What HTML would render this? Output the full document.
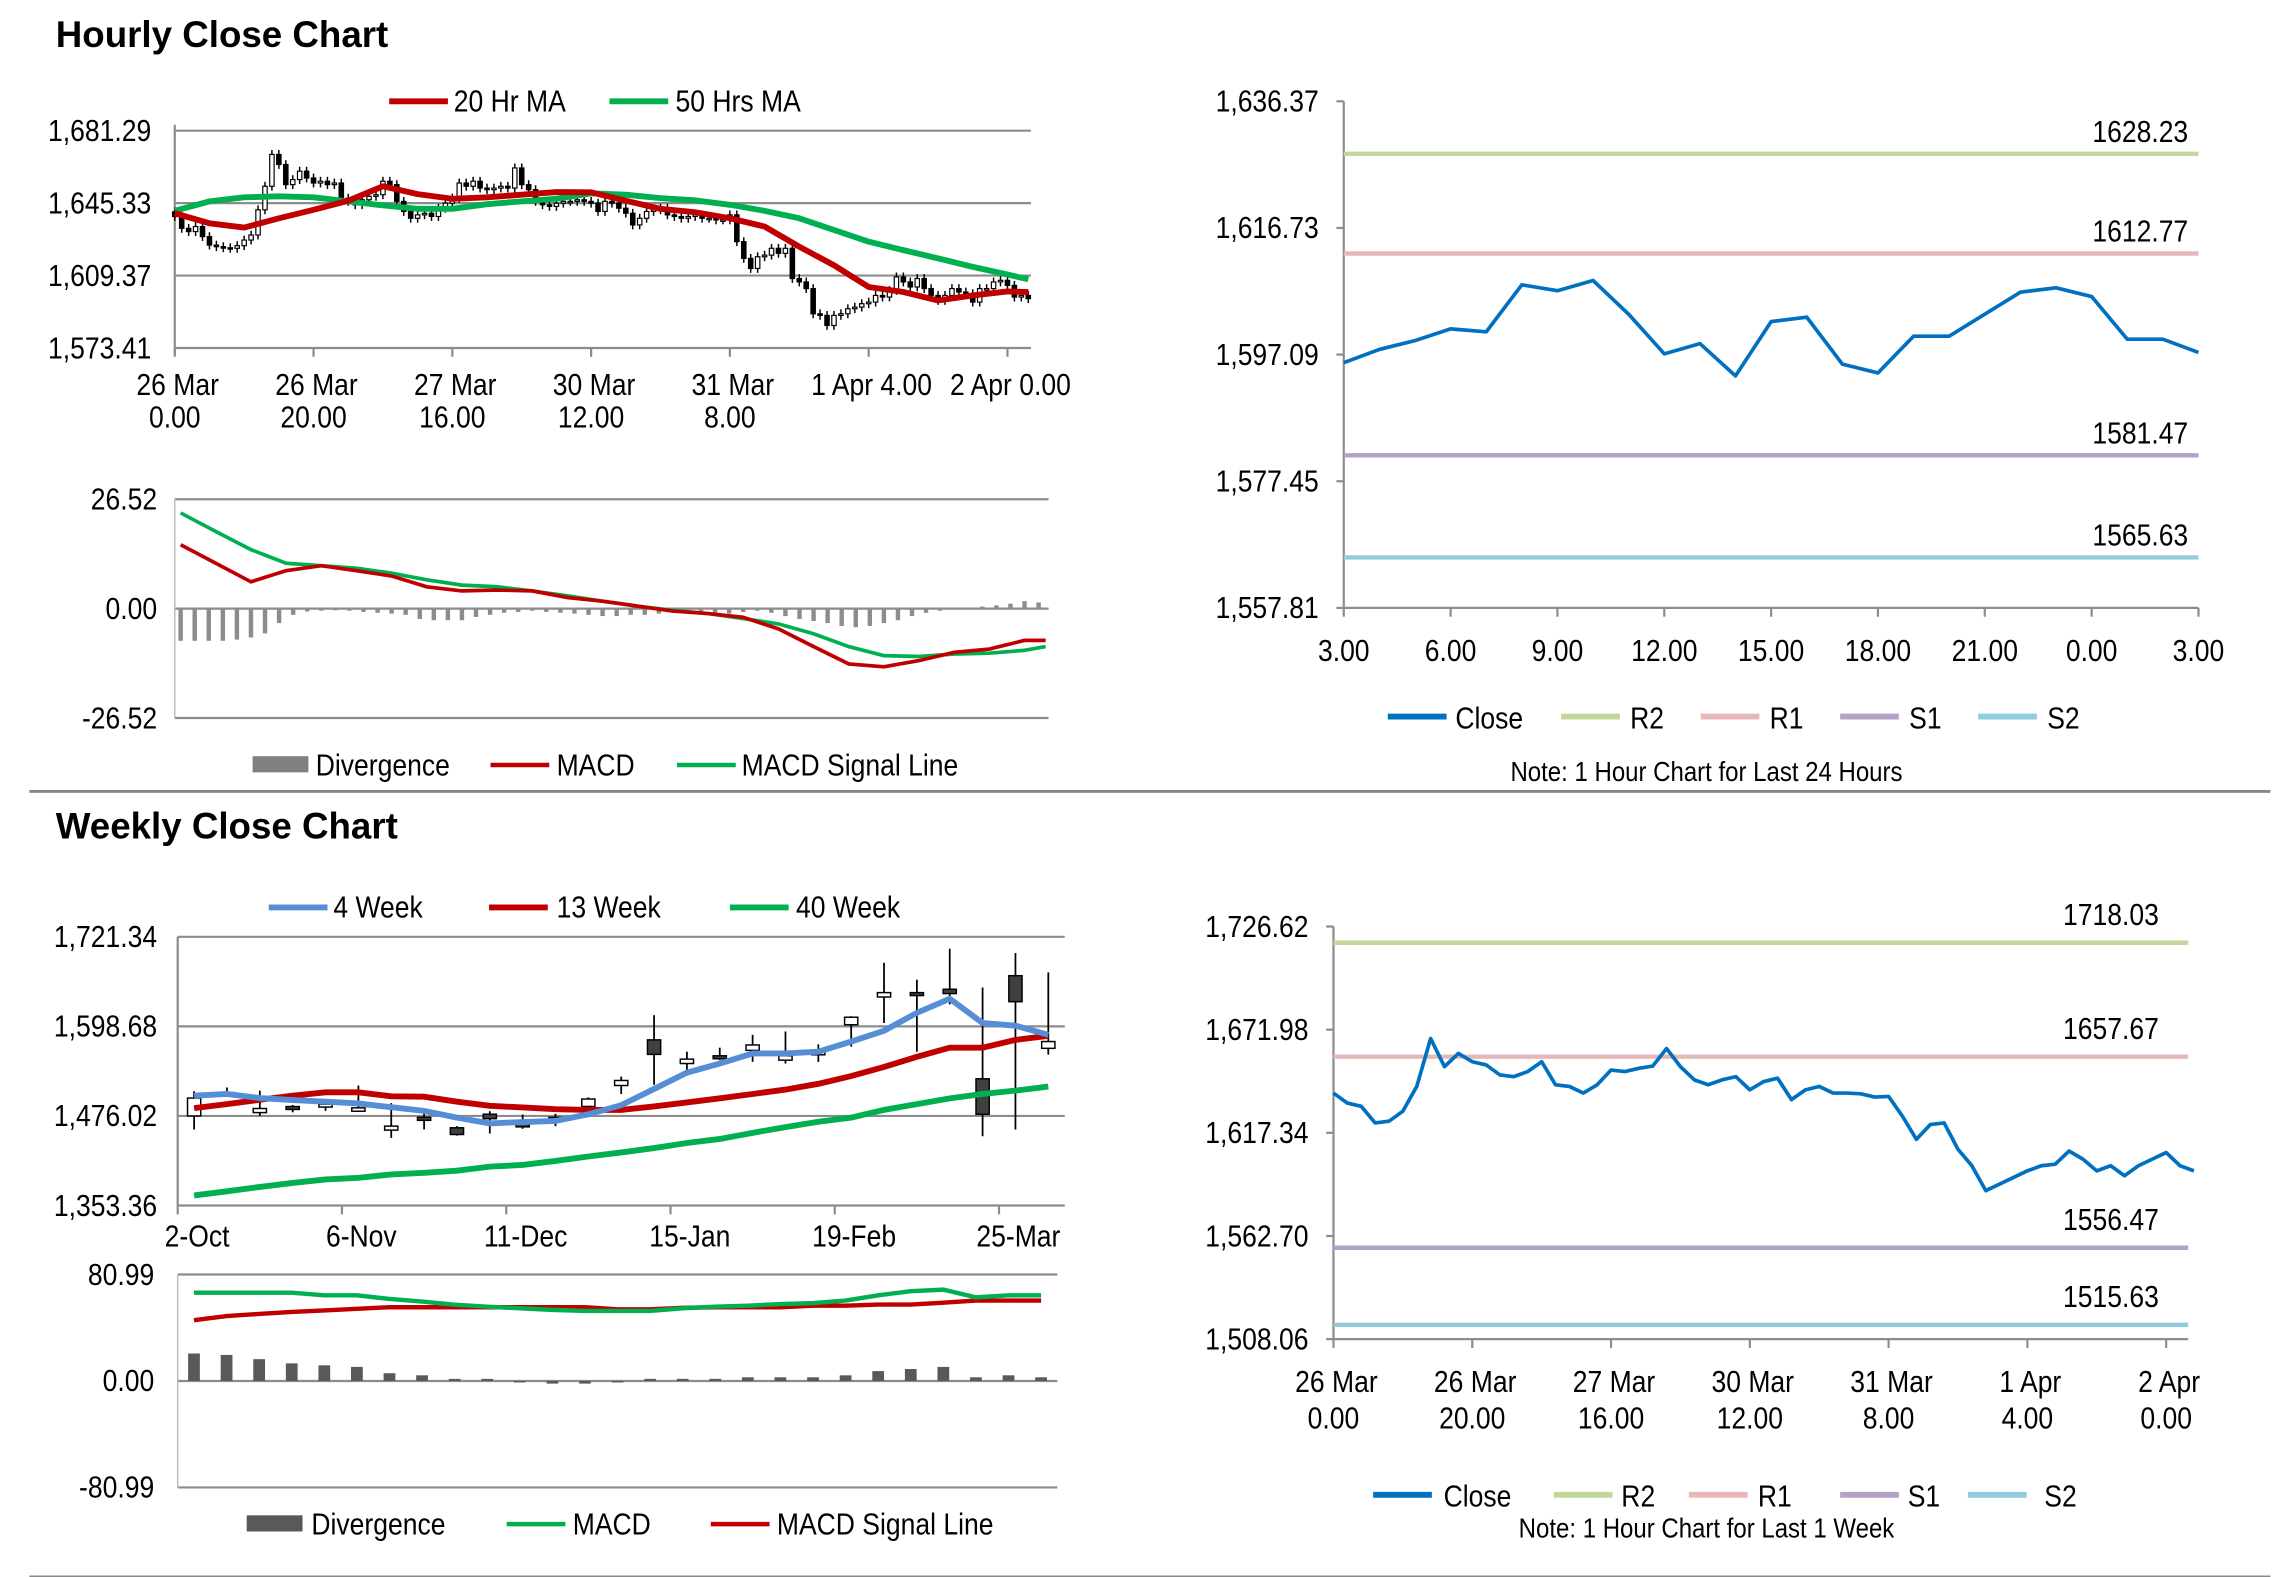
<!DOCTYPE html>
<html><head><meta charset="utf-8">
<style>
html,body{margin:0;padding:0;background:#fff;}
svg{display:block;}
text{font-family:"Liberation Sans Narrow","Liberation Sans",Arial,sans-serif;fill:#000;}
.t{font-size:21px;}
.title{font-family:"Liberation Sans",Arial,sans-serif;font-weight:bold;font-size:25px;}
</style></head>
<body>
<svg id="chart" width="2291" height="1577" viewBox="0 0 1560 1074" preserveAspectRatio="none" xmlns="http://www.w3.org/2000/svg">
<rect x="0" y="0" width="1560" height="1074" fill="#fff"/>
<text class="title" x="38" y="32">Hourly Close Chart</text>
<text class="title" x="38" y="571">Weekly Close Chart</text>
<line x1="20" y1="539" x2="1546" y2="539" stroke="#888" stroke-width="2"/>
<line x1="20" y1="1074" x2="1546" y2="1074" stroke="#888" stroke-width="2"/>

<g>
<line x1="265" y1="69" x2="305" y2="69" stroke="#c00000" stroke-width="4"/>
<text class="t" x="309" y="76">20 Hr MA</text>
<line x1="415" y1="69" x2="455" y2="69" stroke="#00b050" stroke-width="4"/>
<text class="t" x="460" y="76">50 Hrs MA</text>
</g>
<g>
<rect x="172" y="515" width="38" height="11" fill="#808080"/>
<text class="t" x="215" y="528">Divergence</text>
<line x1="334" y1="521" x2="374" y2="521" stroke="#c00000" stroke-width="3"/>
<text class="t" x="379" y="528">MACD</text>
<line x1="461" y1="521" x2="501" y2="521" stroke="#00b050" stroke-width="3"/>
<text class="t" x="505" y="528">MACD Signal Line</text>
</g>
<g>
<line x1="945" y1="488" x2="985" y2="488" stroke="#0070c0" stroke-width="4"/>
<text class="t" x="991" y="496">Close</text>
<line x1="1063" y1="488" x2="1103" y2="488" stroke="#c3d69b" stroke-width="4"/>
<text class="t" x="1110" y="496">R2</text>
<line x1="1158" y1="488" x2="1198" y2="488" stroke="#e6b9b8" stroke-width="4"/>
<text class="t" x="1205" y="496">R1</text>
<line x1="1253" y1="488" x2="1293" y2="488" stroke="#b3a2c7" stroke-width="4"/>
<text class="t" x="1300" y="496">S1</text>
<line x1="1347" y1="488" x2="1387" y2="488" stroke="#93cddd" stroke-width="4"/>
<text class="t" x="1394" y="496">S2</text>
<text x="1162" y="532" text-anchor="middle" style="font-size:19px">Note: 1 Hour Chart for Last 24 Hours</text>
</g>
<g>
<line x1="183" y1="618" x2="223" y2="618" stroke="#558ed5" stroke-width="4"/>
<text class="t" x="227" y="625">4 Week</text>
<line x1="333" y1="618" x2="373" y2="618" stroke="#c00000" stroke-width="4"/>
<text class="t" x="379" y="625">13 Week</text>
<line x1="497" y1="618" x2="537" y2="618" stroke="#00b050" stroke-width="4"/>
<text class="t" x="542" y="625">40 Week</text>
</g>
<g>
<rect x="168" y="1032" width="38" height="11" fill="#595959"/>
<text class="t" x="212" y="1045">Divergence</text>
<line x1="345" y1="1038" x2="385" y2="1038" stroke="#00b050" stroke-width="3"/>
<text class="t" x="390" y="1045">MACD</text>
<line x1="484" y1="1038" x2="524" y2="1038" stroke="#c00000" stroke-width="3"/>
<text class="t" x="529" y="1045">MACD Signal Line</text>
</g>
<g>
<line x1="935" y1="1018" x2="975" y2="1018" stroke="#0070c0" stroke-width="4"/>
<text class="t" x="983" y="1026">Close</text>
<line x1="1058" y1="1018" x2="1098" y2="1018" stroke="#c3d69b" stroke-width="4"/>
<text class="t" x="1104" y="1026">R2</text>
<line x1="1150" y1="1018" x2="1190" y2="1018" stroke="#e6b9b8" stroke-width="4"/>
<text class="t" x="1197" y="1026">R1</text>
<line x1="1253" y1="1018" x2="1293" y2="1018" stroke="#b3a2c7" stroke-width="4"/>
<text class="t" x="1299" y="1026">S1</text>
<line x1="1340" y1="1018" x2="1380" y2="1018" stroke="#93cddd" stroke-width="4"/>
<text class="t" x="1392" y="1026">S2</text>
<text x="1162" y="1047" text-anchor="middle" style="font-size:19px">Note: 1 Hour Chart for Last 1 Week</text>
</g>
</svg>
<script>
// ---------- DATA ----------
const hourlyCloses = [1638.7,1632.8,1631.2,1633.7,1628.7,1624.5,1623.7,1623.2,1622.9,1624.2,1627.0,1629.5,1642.0,1653.7,1669.5,1664.5,1654.5,1657.0,1661.2,1657.8,1655.3,1656.2,1654.5,1655.3,1647.8,1646.2,1644.5,1647.0,1648.7,1649.5,1656.2,1654.5,1646.2,1641.2,1637.8,1639.5,1640.3,1638.7,1642.8,1645.3,1647.8,1655.3,1653.7,1656.2,1652.8,1652.0,1652.8,1653.7,1652.8,1662.8,1654.5,1652.0,1646.2,1644.5,1643.7,1645.3,1646.2,1646.2,1647.0,1646.2,1645.3,1641.2,1646.2,1645.3,1642.8,1640.3,1634.5,1637.8,1641.2,1642.0,1642.8,1639.5,1638.7,1637.8,1638.7,1639.5,1637.8,1637.8,1637.0,1637.0,1639.5,1626.2,1617.9,1612.9,1618.7,1619.5,1622.9,1620.4,1622.9,1607.9,1606.2,1602.9,1590.4,1589.6,1584.6,1589.6,1590.4,1592.9,1593.7,1595.4,1596.2,1599.5,1598.7,1602.0,1608.7,1606.2,1603.7,1607.9,1602.9,1599.5,1597.0,1599.5,1602.9,1601.2,1600.4,1596.2,1602.9,1602.9,1606.2,1607.0,1604.5,1598.7,1599.5,1597.9];
const hourlyFirstOpen = 1641.0;
const maHours = [0,5,10,15,20,25,30,35,40,45,50,55,60,65,70,75,80,85,90,95,100,105,110,115,120,123];
const ma20 = [1640.3,1635.3,1633.2,1637.8,1642.0,1646.5,1653.7,1649.8,1647.5,1648.2,1649.5,1650.8,1650.7,1646.5,1642.5,1640.8,1637.8,1633.7,1623.7,1614.5,1603.7,1601.2,1597.0,1599.5,1601.5,1601.2];
const ma50 = [1641.5,1646.2,1648.2,1648.7,1648.2,1646.2,1644.2,1642.5,1642.5,1644.8,1646.2,1647.5,1650.2,1649.5,1647.8,1646.7,1644.5,1641.5,1637.8,1632.0,1626.2,1622.0,1617.9,1613.7,1609.9,1607.5];
const hourlyYTicks = [1681.29,1645.33,1609.37,1573.41];
const hourlyXTickHours = [0,20,40,60,80,100,120];
const hourlyXTickL1 = ["26 Mar","26 Mar","27 Mar","30 Mar","31 Mar","1 Apr 4.00","2 Apr 0.00"];
const hourlyXTickL2 = ["0.00","20.00","16.00","12.00","8.00","",""];
const macdHours = [0,5,10,15,20,25,30,35,40,45,50,55,60,65,70,75,80,85,90,95,100,105,110,115,120,123];
const macdVals = [15.5,11.0,6.5,9.2,10.4,9.2,7.9,5.3,4.3,4.5,4.3,2.7,1.8,0.6,-0.6,-1.2,-2.1,-4.9,-9.2,-13.4,-14.1,-12.6,-10.6,-9.8,-7.7,-7.7];
const signalVals = [23.2,18.7,14.3,11.0,10.4,9.8,8.6,7.0,5.7,5.3,4.3,3.1,1.8,0.6,-0.4,-1.2,-2.4,-3.7,-6.1,-9.2,-11.4,-11.6,-11.0,-10.8,-10.1,-9.2];
const divHours2 = [0,2,4,6,8,10,12,14,16,18,20,22,24,26,28,30,32,34,36,38,40,42,44,46,48,50,52,54,56,58,60,62,64,66,68,70,72,74,76,78,80,82,84,86,88,90,92,94,96,98,100,102,104,106,108,110,112,114,116,118,120,122];
const divVals = [-7.8,-7.8,-7.8,-7.8,-7.5,-7.0,-6.0,-3.5,-1.5,-0.7,-0.5,-0.4,-0.5,-0.8,-1.0,-1.2,-1.5,-2.5,-2.8,-2.8,-2.8,-2.0,-1.5,-1.0,-0.8,-0.5,-0.8,-1.0,-1.2,-1.5,-1.8,-1.8,-1.5,-1.5,-1.2,-1.0,-1.0,-1.2,-1.5,-1.2,-0.8,-0.5,-1.0,-1.8,-2.5,-3.0,-3.5,-4.2,-4.5,-4.2,-3.5,-2.8,-1.8,-1.0,-0.5,-0.2,0.2,0.5,0.8,1.2,1.8,1.5];
const macdYTicks = [26.52,0,-26.52];
const dayHours = [0,1,2,3,4,5,6,7,8,9,10,11,12,13,14,15,16,17,18,19,20,21,22,23,24];
const dayClose = [1595.84,1597.89,1599.26,1601.08,1600.62,1607.91,1607.0,1608.59,1603.35,1597.21,1598.8,1593.79,1602.21,1602.9,1595.61,1594.25,1599.94,1599.94,1603.35,1606.77,1607.45,1606.09,1599.48,1599.48,1597.43];
const dayLevelNames = ["R2","R1","S1","S2"];
const dayLevels = [1628.23,1612.77,1581.47,1565.63];
const dayYTicks = [1636.37,1616.73,1597.09,1577.45,1557.81];
const dayXTicks = ["3.00","6.00","9.00","12.00","15.00","18.00","21.00","0.00","3.00"];
const weekLabels = ["2-Oct","","","","","6-Nov","","","","","11-Dec","","","","","15-Jan","","","","","19-Feb","","","","","25-Mar",""];
const wOpen  = [1476.0,1507.0,1480.6,1488.9,1488.5,1482.5,1456.6,1474.2,1459.8,1478.4,1465.1,1474.1,1489.0,1517.7,1580.2,1547.8,1558.4,1565.8,1552.4,1563.0,1600.9,1638.9,1644.9,1649.5,1526.9,1668.1,1568.6];
const wClose = [1500.5,1508.0,1486.2,1485.2,1492.2,1487.1,1462.1,1470.0,1450.6,1472.3,1461.7,1471.4,1499.2,1524.6,1560.3,1553.8,1554.7,1573.2,1558.4,1563.8,1611.2,1644.9,1641.3,1643.6,1478.3,1632.5,1577.9];
const wHigh  = [1509.8,1515.0,1510.7,1491.0,1498.0,1517.7,1493.6,1480.6,1462.0,1482.5,1478.0,1479.0,1501.5,1530.0,1614.0,1564.0,1569.5,1587.0,1591.7,1574.0,1612.6,1685.7,1662.6,1705.0,1651.9,1699.1,1672.7];
const wLow   = [1457.5,1505.0,1476.0,1481.0,1483.0,1481.6,1445.9,1457.5,1449.0,1452.0,1458.4,1462.0,1487.6,1506.1,1518.6,1538.5,1552.4,1550.1,1547.8,1550.0,1570.9,1603.3,1564.0,1628.8,1448.2,1457.5,1560.0];
const ma4w  = [1503.8,1506.1,1500.5,1497.8,1495.5,1493.1,1488.0,1483.0,1473.7,1465.8,1467.7,1469.1,1478.3,1490.8,1513.0,1535.3,1547.8,1561.6,1561.6,1564.0,1577.9,1592.7,1617.2,1636.6,1603.3,1599.6,1587.1];
const ma13w = [1486.7,1492.2,1498.2,1503.8,1508.4,1508.4,1502.9,1502.4,1495.5,1489.9,1487.6,1485.3,1484.3,1484.3,1489.0,1494.5,1500.1,1506.1,1512.1,1520.0,1530.6,1543.1,1557.0,1569.5,1569.5,1580.2,1585.7];
const ma40w = [1367.2,1372.8,1378.8,1384.3,1389.0,1391.3,1395.9,1398.2,1401.0,1406.6,1408.9,1414.4,1420.5,1426.0,1432.0,1439.0,1444.5,1452.9,1460.7,1468.1,1473.7,1484.3,1492.2,1500.1,1506.1,1510.7,1516.3];
const weekYTicks = [1721.34,1598.68,1476.02,1353.36];
const wMacd   = [67.2,67.2,67.2,67.2,65.2,65.2,62.4,60.4,58.0,56.5,55.3,54.1,53.3,53.3,53.3,55.3,56.5,57.3,58.5,59.3,61.2,65.2,68.3,69.5,63.6,65.2,65.2];
const wSignal = [46.2,49.4,51.0,52.5,53.7,54.9,56.1,56.1,56.1,56.1,56.1,56.1,56.1,54.5,54.5,55.7,56.1,56.1,56.1,57.3,57.3,58.1,58.1,59.6,61.2,61.2,61.2];
const wDiv    = [20.9,19.8,16.6,13.4,11.9,10.7,5.9,4.3,1.6,1.6,-0.8,-2.0,-2.0,-0.8,1.6,1.6,1.6,2.8,2.8,2.8,4.3,7.5,9.1,10.7,2.8,4.3,2.8];
const wMacdYTicks = [80.99,0,-80.99];
const wkHours = [0,2,4,6,8,10,12,14,16,18,20,22,24,26,28,30,32,34,36,38,40,42,44,46,48,50,52,54,56,58,60,62,64,66,68,70,72,74,76,78,80,82,84,86,88,90,92,94,96,98,100,102,104,106,108,110,112,114,116,118,120,122,124];
const wkClose = [1638.4,1633.1,1631.4,1622.6,1623.5,1628.8,1641.9,1667.3,1652.4,1659.4,1655.0,1653.3,1648.0,1647.1,1649.8,1655.0,1642.8,1641.9,1638.4,1642.8,1650.6,1649.8,1651.5,1652.7,1662.0,1652.4,1645.4,1642.8,1645.4,1647.1,1640.1,1644.5,1646.3,1634.9,1640.1,1641.9,1638.4,1638.4,1638.0,1636.3,1636.6,1626.1,1613.9,1621.7,1622.6,1608.6,1599.9,1586.7,1590.2,1593.7,1597.2,1599.9,1600.7,1607.7,1603.4,1597.2,1599.9,1594.6,1599.9,1603.4,1606.9,1599.9,1597.2];
const wkLevels = [1718.03,1657.67,1556.47,1515.63];
const wkYTicks = [1726.62,1671.98,1617.34,1562.70,1508.06];
const wkXTickHours = [0,20,40,60,80,100,120];
const wkXTickL1 = ["26 Mar","26 Mar","27 Mar","30 Mar","31 Mar","1 Apr","2 Apr"];
const wkXTickL2 = ["0.00","20.00","16.00","12.00","8.00","4.00","0.00"];
const levelColors = ["#c3d69b","#e6b9b8","#b3a2c7","#93cddd"];

// ---------- HELPERS ----------
const NS = 'http://www.w3.org/2000/svg';
const svg = document.getElementById('chart');
const FS = 21;
function mk(tag, attrs, parent){ const e = document.createElementNS(NS, tag); for (const k in attrs) e.setAttribute(k, attrs[k]); (parent||svg).appendChild(e); return e; }
function txt(x, y, s, anchor, size, parent){ const e = mk('text', {x:x, y:y, 'text-anchor':anchor||'start', 'font-size':size||FS}, parent); e.textContent = s; return e; }
function fmt(v){ return v.toLocaleString('en-US',{minimumFractionDigits:2,maximumFractionDigits:2}); }
function linear(d0,d1,r0,r1){ return v => r0 + (v-d0)/(d1-d0)*(r1-r0); }
function pathD(xs, ys){ return xs.map((x,i)=>(i?'L':'M')+x.toFixed(2)+','+ys[i].toFixed(2)).join(''); }

// ---------- PANEL 1 ----------
(function(){
  const g = mk('g', {});
  
  
  const x = linear(0, 20, 119, 213.5), y = linear(1681.29, 1573.41, 89, 237);
  hourlyYTicks.forEach((v,i)=>{
    const l = mk('line', {x1:119, x2:702, y1:y(v), y2:y(v), stroke:'#8c8c8c', 'stroke-width':1.5}, g);
    
    
    const t = txt(103, y(v)+7, fmt(v), 'end', FS, g);
    
    
  });
  const ax = mk('line', {x1:119, x2:119, y1:85, y2:241, stroke:'#8c8c8c', 'stroke-width':1.5}, g);
  
  
  hourlyXTickHours.forEach((h,i)=>{
    const tk = mk('line', {x1:x(h), x2:x(h), y1:237, y2:243, stroke:'#8c8c8c', 'stroke-width':1.5}, g);
    
    
    const t1 = txt(x(h)+2, 269, hourlyXTickL1[i], 'middle', FS, g);
    
    
    const t2 = txt(x(h), 291, hourlyXTickL2[i], 'middle', FS, g);
    
    
  });
  hourlyCloses.forEach((c,i)=>{
    const o = i ? hourlyCloses[i-1] : hourlyFirstOpen;
    const cx = x(i), top = y(Math.max(o,c)), bot = y(Math.min(o,c));
    const w = mk('line', {x1:cx, x2:cx, y1:top-3, y2:bot+3, stroke:'#000', 'stroke-width':1}, g);
    
    
    const b = mk('rect', {x:cx-1.5, y:top, width:3, height:Math.max(bot-top,1), fill: c>=o ? '#fff' : '#000', stroke:'#000', 'stroke-width':0.8}, g);
    
    
  });
  const p50 = mk('path', {d:pathD(maHours.map(x), ma50.map(y)), fill:'none', stroke:'#00b050', 'stroke-width':4, 'stroke-linejoin':'round'}, g);
  
  
  const p20 = mk('path', {d:pathD(maHours.map(x), ma20.map(y)), fill:'none', stroke:'#c00000', 'stroke-width':4, 'stroke-linejoin':'round'}, g);
  
  
})();

// ---------- PANEL 2 ----------
(function(){
  const g = mk('g', {});
  
  
  const x = linear(0, 123, 123, 712), y = linear(26.52, -26.52, 340, 489);
  macdYTicks.forEach(v=>{
    const l = mk('line', {x1:119, x2:714, y1:y(v), y2:y(v), stroke:'#8c8c8c', 'stroke-width':1.5}, g);
    
    
    const t = txt(107, y(v)+7, v.toFixed(2), 'end', FS, g);
    
    
  });
  const ax = mk('line', {x1:119, x2:119, y1:340, y2:489, stroke:'#bbb', 'stroke-width':1}, g);
  
  
  divHours2.forEach((h,i)=>{
    const v = divVals[i];
    const r = mk('rect', {x:x(h)-1.5, y:Math.min(y(v),y(0)), width:3, height:Math.abs(y(v)-y(0)), fill:'#8c8c8c'}, g);
    
    
  });
  const s = mk('path', {d:pathD(macdHours.map(x), signalVals.map(y)), fill:'none', stroke:'#00b050', 'stroke-width':2.5}, g);
  
  
  const m = mk('path', {d:pathD(macdHours.map(x), macdVals.map(y)), fill:'none', stroke:'#c00000', 'stroke-width':2.5}, g);
  
  
})();

// ---------- PANEL 3 ----------
(function(){
  const g = mk('g', {});
  
  
  const x = linear(0, 24, 915, 1497), y = linear(1636.37, 1557.81, 69, 414);
  const ax = mk('line', {x1:915, x2:915, y1:69, y2:414, stroke:'#8c8c8c', 'stroke-width':1.5}, g);
  
  
  const bx = mk('line', {x1:915, x2:1497, y1:414, y2:414, stroke:'#8c8c8c', 'stroke-width':1.5}, g);
  
  
  dayYTicks.forEach(v=>{
    const tk = mk('line', {x1:910, x2:915, y1:y(v), y2:y(v), stroke:'#8c8c8c', 'stroke-width':1.5}, g);
    
    
    const t = txt(898, y(v)+7, fmt(v), 'end', FS, g);
    
    
  });
  dayXTicks.forEach((s,i)=>{
    const h = i*3;
    const tk = mk('line', {x1:x(h), x2:x(h), y1:414, y2:420, stroke:'#8c8c8c', 'stroke-width':1.5}, g);
    
    
    const t = txt(x(h), 450, s, 'middle', FS, g);
    
    
  });
  dayLevels.forEach((v,i)=>{
    const l = mk('line', {x1:915, x2:1497, y1:y(v), y2:y(v), stroke:levelColors[i], 'stroke-width':3}, g);
    
    
    const t = txt(1490, y(v)-8, v.toFixed(2), 'end', FS, g);
    
    
  });
  const p = mk('path', {d:pathD(dayHours.map(x), dayClose.map(y)), fill:'none', stroke:'#0070c0', 'stroke-width':2.5, 'stroke-linejoin':'round'}, g);
  
  
})();

// ---------- PANEL 4 ----------
(function(){
  const g = mk('g', {});
  
  
  const n = weekLabels.length, L = 121, R = 725, bw = (R-L)/n;
  const x = i => L + (i+0.5)*bw;
  const y = linear(1721.34, 1353.36, 638, 821);
  weekYTicks.forEach(v=>{
    const l = mk('line', {x1:L, x2:R, y1:y(v), y2:y(v), stroke:'#8c8c8c', 'stroke-width':1.5}, g);
    
    
    const t = txt(107, y(v)+7, fmt(v), 'end', FS, g);
    
    
  });
  const ax = mk('line', {x1:L, x2:L, y1:638, y2:821, stroke:'#8c8c8c', 'stroke-width':1.5}, g);
  
  
  weekLabels.forEach((s,i)=>{
    if (!s) return;
    const tk = mk('line', {x1:L+i*bw, x2:L+i*bw, y1:821, y2:827, stroke:'#8c8c8c', 'stroke-width':1.5}, g);
    
    
    const t = txt(x(i)+2, 849, s, 'middle', FS, g);
    
    
  });
  wOpen.forEach((o,i)=>{
    const c = wClose[i], cx = x(i);
    const w = mk('line', {x1:cx, x2:cx, y1:y(wHigh[i]), y2:y(wLow[i]), stroke:'#000', 'stroke-width':1.2}, g);
    
    
    const top = y(Math.max(o,c)), bot = y(Math.min(o,c));
    const b = mk('rect', {x:cx-4.5, y:top, width:9, height:Math.max(bot-top,2), fill: c>=o ? '#fff' : '#404040', stroke:'#000', 'stroke-width':1}, g);
    
    
  });
  const idx = ma4w.map((_,i)=>x(i));
  const p40 = mk('path', {d:pathD(idx, ma40w.map(y)), fill:'none', stroke:'#00b050', 'stroke-width':4}, g);
  
  
  const p13 = mk('path', {d:pathD(idx, ma13w.map(y)), fill:'none', stroke:'#c00000', 'stroke-width':4}, g);
  
  
  const p4 = mk('path', {d:pathD(idx, ma4w.map(y)), fill:'none', stroke:'#558ed5', 'stroke-width':4}, g);
  
  
})();

// ---------- PANEL 5 ----------
(function(){
  const g = mk('g', {});
  
  
  const n = wMacd.length, L = 121, R = 720, bw = (R-L)/n;
  const x = i => L + (i+0.5)*bw;
  const y = linear(80.99, -80.99, 868, 1013);
  wMacdYTicks.forEach(v=>{
    const l = mk('line', {x1:L, x2:R, y1:y(v), y2:y(v), stroke:'#8c8c8c', 'stroke-width':1.5}, g);
    
    
    const t = txt(105, y(v)+7, v.toFixed(2), 'end', FS, g);
    
    
  });
  const ax = mk('line', {x1:L, x2:L, y1:868, y2:1013, stroke:'#bbb', 'stroke-width':1}, g);
  
  
  wDiv.forEach((v,i)=>{
    const r = mk('rect', {x:x(i)-4, y:Math.min(y(v),y(0)), width:8, height:Math.max(Math.abs(y(v)-y(0)),1), fill:'#595959'}, g);
    
    
  });
  const idx = wMacd.map((_,i)=>x(i));
  const s = mk('path', {d:pathD(idx, wSignal.map(y)), fill:'none', stroke:'#c00000', 'stroke-width':3}, g);
  
  
  const m = mk('path', {d:pathD(idx, wMacd.map(y)), fill:'none', stroke:'#00b050', 'stroke-width':3}, g);
  
  
})();

// ---------- PANEL 6 ----------
(function(){
  const g = mk('g', {});
  
  
  const x = linear(0, 20, 908, 1002.5), y = linear(1726.62, 1508.06, 631, 912);
  const ax = mk('line', {x1:908, x2:908, y1:631, y2:912, stroke:'#8c8c8c', 'stroke-width':1.5}, g);
  
  
  const bx = mk('line', {x1:908, x2:1490, y1:912, y2:912, stroke:'#8c8c8c', 'stroke-width':1.5}, g);
  
  
  wkYTicks.forEach(v=>{
    const tk = mk('line', {x1:903, x2:908, y1:y(v), y2:y(v), stroke:'#8c8c8c', 'stroke-width':1.5}, g);
    
    
    const t = txt(891, y(v)+7, fmt(v), 'end', FS, g);
    
    
  });
  wkXTickHours.forEach((h,i)=>{
    const tk = mk('line', {x1:x(h), x2:x(h), y1:912, y2:918, stroke:'#8c8c8c', 'stroke-width':1.5}, g);
    
    
    const t1 = txt(x(h)+2, 948, wkXTickL1[i], 'middle', FS, g);
    
    
    const t2 = txt(x(h), 973, wkXTickL2[i], 'middle', FS, g);
    
    
  });
  wkLevels.forEach((v,i)=>{
    const l = mk('line', {x1:908, x2:1490, y1:y(v), y2:y(v), stroke:levelColors[i], 'stroke-width':3}, g);
    
    
    const t = txt(1470, y(v)-12, v.toFixed(2), 'end', FS, g);
    
    
  });
  const p = mk('path', {d:pathD(wkHours.map(x), wkClose.map(y)), fill:'none', stroke:'#0070c0', 'stroke-width':2.5, 'stroke-linejoin':'round'}, g);
  
  
})();

// condense non-title text horizontally to mimic a narrow font
document.querySelectorAll('#chart text').forEach(t=>{
  if (t.classList.contains('title')) return;
  const x = parseFloat(t.getAttribute('x'));
  t.setAttribute('transform', 'translate(' + x + ',0) scale(0.86,1) translate(' + (-x) + ',0)');
});
</script>
</body></html>
